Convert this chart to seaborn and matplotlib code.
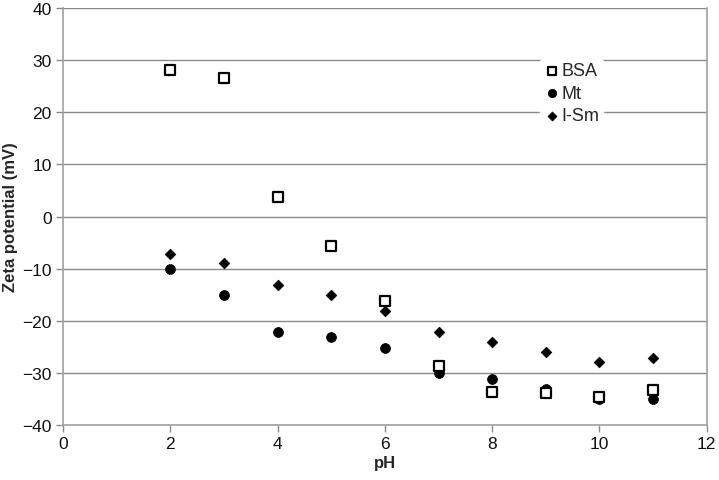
import matplotlib
matplotlib.use("Agg")
import matplotlib.pyplot as plt
import seaborn as sns
import pandas as pd

sns.set_style("white")
plt.rcParams['font.family'] = ['Liberation Sans', 'DejaVu Sans']

ph = [2, 3, 4, 5, 6, 7, 8, 9, 10, 11]
bsa = [28.2, 26.5, 3.8, -5.6, -16.2, -28.7, -33.7, -33.9, -34.6, -33.3]
mt = [-10.0, -15.1, -22.1, -23.1, -25.2, -30.1, -31.1, -33.1, -35.1, -35.0]
ism = [-7.1, -9.0, -13.1, -15.1, -18.2, -22.1, -24.0, -26.0, -28.0, -27.1]

df = pd.DataFrame({"pH": ph, "BSA": bsa, "Mt": mt, "I-Sm": ism})

fig = plt.figure(figsize=(7.19, 4.81), dpi=100)
ax = fig.add_axes([0.0876, 0.1143, 0.8954, 0.8670])

grey = "#8a8a8a"
for v in range(-30, 41, 10):
    ax.axhline(v, color=grey, lw=1.0, zorder=0)

sns.scatterplot(data=df, x="pH", y="BSA", marker="s", s=42, facecolor="white",
                edgecolor="black", linewidth=1.6, ax=ax, label="BSA", zorder=3)
sns.scatterplot(data=df, x="pH", y="Mt", marker="o", s=50, color="black",
                edgecolor="black", ax=ax, label="Mt", zorder=2)
sns.scatterplot(data=df, x="pH", y="I-Sm", marker="D", s=30, color="black",
                edgecolor="black", ax=ax, label="I-Sm", zorder=4)

ax.set_xlim(0, 12)
ax.set_ylim(-40, 40)
ax.set_xticks(range(0, 13, 2))
ax.set_yticks(range(-40, 41, 10))
ax.set_xlabel("pH", fontsize=12, fontweight="bold", labelpad=3)
ax.set_ylabel("Zeta potential (mV)", fontsize=12, fontweight="bold", labelpad=3)
ax.tick_params(axis="both", labelsize=12.5, length=5, width=1, color=grey,
               labelcolor="#111111", direction="out", pad=3)
ax.tick_params(axis="x", bottom=True)
ax.tick_params(axis="y", left=True)

for side in ["left", "bottom", "right"]:
    ax.spines[side].set_color("#a0a0a0")
    ax.spines[side].set_linewidth(1.2)
ax.spines["top"].set_visible(False)

leg = ax.legend(loc="upper left", bbox_to_anchor=(0.741, 0.878), frameon=True,
                fontsize=13, handletextpad=0.1, borderpad=0.2, markerscale=0.85,
                labelspacing=0.3, handlelength=0.9, borderaxespad=0)
leg.get_frame().set_edgecolor("white")
leg.get_frame().set_facecolor("white")
leg.get_frame().set_alpha(1)

fig.savefig("out.png", dpi=100)
